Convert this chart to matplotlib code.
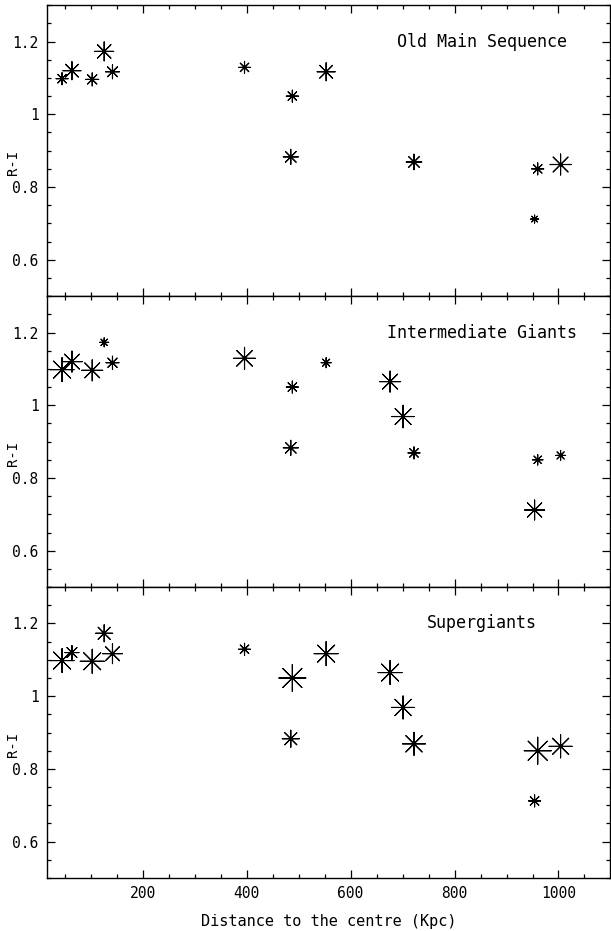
import numpy as np
import matplotlib
matplotlib.use('Agg')
import matplotlib.pyplot as plt
from matplotlib.ticker import MultipleLocator, FuncFormatter

plt.rcParams['font.family'] = 'DejaVu Sans Mono'

# distance to the centre (Kpc) and R-I colour, same objects in every panel
dist = [45, 64, 103, 126, 142, 396, 488, 485, 553, 676, 701, 722, 960, 954, 1004]
r_i = [1.098, 1.120, 1.096, 1.173, 1.117, 1.129, 1.050, 0.883, 1.117,
       1.065, 0.969, 0.869, 0.850, 0.712, 0.862]

# relative weight of each population (drawn as symbol size), nan = absent
w_old = [12, 18, 13, 19, 14, 12, 12, 15, 18, np.nan, np.nan, 15.5, 12, 8, 21]
w_int = [24, 21, 21, 9, 13, 22, 12, 15, 10, 21, 22.5, 12, 10.5, 20, 10]
w_sup = [24, 14, 24, 17, 20, 12, 27, 17, 24, 24, 23, 23, 27, 12, 23]

panels = ['Old Main Sequence', 'Intermediate Giants', 'Supergiants']
weights = [w_old, w_int, w_sup]

fig = plt.figure(figsize=(6.11, 9.31), dpi=100)

left, width = 0.0769, 0.9214
h = 0.3125
bottoms = [0.0569 + 2 * h, 0.0569 + h, 0.0569]

for i, (name, w) in enumerate(zip(panels, weights)):
    ax = fig.add_axes([left, bottoms[i], width, h])
    x = np.array(dist, dtype=float)
    y = np.array(r_i)
    w = np.array(w, dtype=float)
    ok = ~np.isnan(w)
    ax.scatter(x[ok], y[ok], s=(w[ok] * 0.72) ** 2, marker=(8, 2, 0),
               c='k', linewidths=0.8)
    ax.scatter(x[ok], y[ok], s=4, marker='o', c='k', linewidths=0)

    ax.set_xlim(16, 1099)
    ax.set_ylim(0.5, 1.3)
    ax.xaxis.set_major_locator(MultipleLocator(200))
    ax.xaxis.set_minor_locator(MultipleLocator(50))
    ax.yaxis.set_major_locator(MultipleLocator(0.2))
    ax.yaxis.set_minor_locator(MultipleLocator(0.05))
    ax.yaxis.set_major_formatter(FuncFormatter(lambda v, p: '%g' % round(v, 2)))
    ax.tick_params(which='both', direction='in', top=True, right=True,
                   width=0.9, labelsize=10.5)
    ax.tick_params(which='major', length=6, pad=6)
    ax.tick_params(which='minor', length=3)
    for s in ax.spines.values():
        s.set_linewidth(1.0)

    ax.set_ylabel('R-I', fontsize=10)
    ax.yaxis.set_label_coords(-0.048, 0.46)
    ax.text(852, 1.2, name, ha='center', va='center', fontsize=12)

    if i < 2:
        ax.tick_params(labelbottom=False)
    else:
        ax.set_xlabel('Distance to the centre (Kpc)', fontsize=11, labelpad=9)

fig.savefig('out.png', dpi=100)
